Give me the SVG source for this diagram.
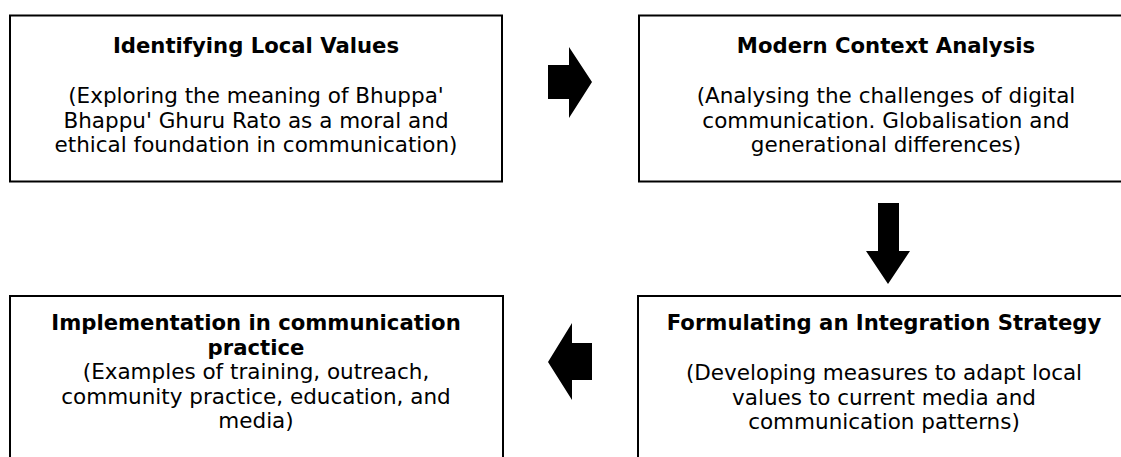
<svg xmlns="http://www.w3.org/2000/svg" width="1121" height="457" viewBox="0 0 1121 457">
  <style>
    .box { fill: #ffffff; stroke: #000000; stroke-width: 2; }
    .title { font-family: "DejaVu Sans", Verdana, sans-serif; font-size: 21.2px; font-weight: bold; fill: #000000; text-anchor: middle; }
    .body { font-family: "DejaVu Sans", Verdana, sans-serif; font-size: 21.5px; fill: #000000; text-anchor: middle; }
    .arrow { fill: #000000; stroke: none; }
  </style>
  <rect width="1121" height="457" fill="#ffffff"/>

  <g id="node-identifying">
    <rect class="box" x="10" y="15.5" width="492" height="166"/>
    <text class="title" x="256" y="53">Identifying Local Values</text>
    <text class="body" x="256" y="103">(Exploring the meaning of Bhuppa'</text>
    <text class="body" x="256" y="127.5">Bhappu' Ghuru Rato as a moral and</text>
    <text class="body" x="256" y="152">ethical foundation in communication)</text>
  </g>

  <g id="node-modern-context">
    <rect class="box" x="639" y="15.5" width="494" height="166"/>
    <text class="title" x="886" y="53">Modern Context Analysis</text>
    <text class="body" x="886" y="103">(Analysing the challenges of digital</text>
    <text class="body" x="886" y="127.5">communication. Globalisation and</text>
    <text class="body" x="886" y="152">generational differences)</text>
  </g>

  <g id="node-strategy">
    <rect class="box" x="638" y="296" width="494" height="180"/>
    <text class="title" x="884" y="330">Formulating an Integration Strategy</text>
    <text class="body" x="884" y="380">(Developing measures to adapt local</text>
    <text class="body" x="884" y="404.5">values to current media and</text>
    <text class="body" x="884" y="429">communication patterns)</text>
  </g>

  <g id="node-implementation">
    <rect class="box" x="10" y="296" width="493" height="180"/>
    <text class="title" x="256" y="330">Implementation in communication</text>
    <text class="title" x="256" y="354.5">practice</text>
    <text class="body" x="256" y="379">(Examples of training, outreach,</text>
    <text class="body" x="256" y="403.5">community practice, education, and</text>
    <text class="body" x="256" y="428">media)</text>
  </g>

  <g id="connectors">
    <!-- block arrow: identifying -> modern context -->
    <polygon class="arrow" points="548,65 569,65 569,47 592,82 569,118 569,99 548,99"/>
    <!-- block arrow: modern context -> strategy -->
    <polygon class="arrow" points="878,203 899,203 899,251 910,251 888,284 866,251 878,251"/>
    <!-- block arrow: strategy -> implementation -->
    <polygon class="arrow" points="592,343 572,343 572,323 548,362 572,400 572,380 592,380"/>
  </g>
</svg>
